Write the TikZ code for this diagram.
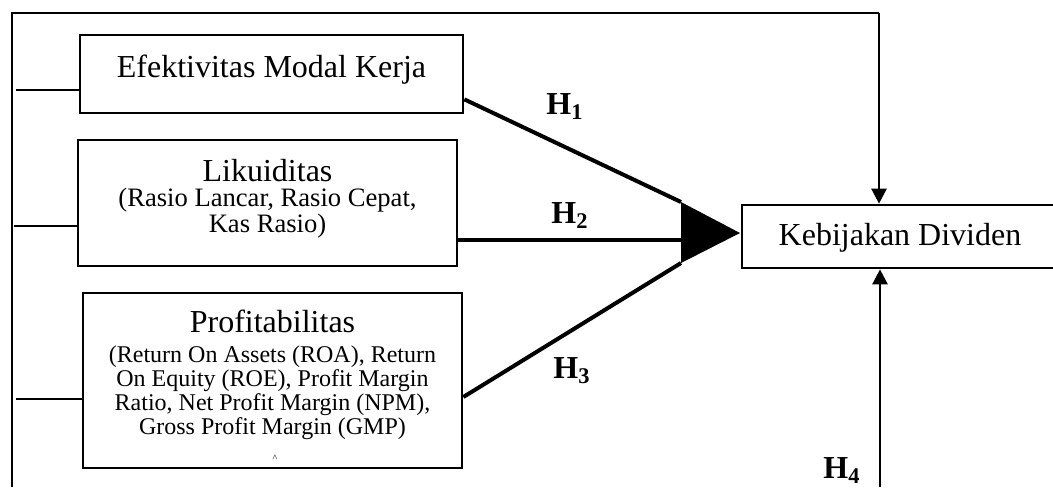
\documentclass[tikz,border=0pt]{standalone}
\usepackage{fontspec}
\setmainfont{Liberation Serif}
\usetikzlibrary{arrows.meta}
\begin{document}
\begin{tikzpicture}[x=0.5pt,y=-0.5pt,
  box/.style={draw,line width=1.35pt,inner sep=0pt},
  frame/.style={line width=0.65pt},
  hline/.style={line width=2pt},
  varrow/.style={line width=1.3pt,-{Triangle[length=7.5pt,width=7.5pt]}},
  big/.style={font=\fontsize{16}{18}\selectfont,anchor=base,inner sep=0pt},
  mid/.style={font=\fontsize{13.3}{14}\selectfont,anchor=base,inner sep=0pt},
  sml/.style={font=\fontsize{12}{13}\selectfont,anchor=base,inner sep=0pt},
  hlab/.style={font=\fontsize{16}{18}\selectfont\bfseries,anchor=base west,inner sep=0pt}]
\useasboundingbox (0,0) rectangle (1053,487);
\clip (0,0) rectangle (1053,487);

% boxes
\node[box,minimum width=191.5pt,minimum height=39pt] (b1) at (271.5,74) {};
\node[big] (t1) at (271.5,77) {Efektivitas Modal Kerja};

\node[box,minimum width=189.5pt,minimum height=63pt] (b2) at (267.5,203) {};
\node[big] (t2a) at (267.5,181) {Likuiditas};
\node[mid] (t2b) at (267.5,206) {(Rasio Lancar, Rasio Cepat,};
\node[mid] (t2c) at (267.5,232) {Kas Rasio)};

\node[box,minimum width=189.5pt,minimum height=87.5pt] (b3) at (272.5,380.5) {};
\node[big] (t3a) at (272.5,332) {Profitabilitas};
\node[sml] (t3b) at (272.5,362) {(Return On Assets (ROA), Return};
\node[sml] (t3c) at (272.5,386) {On Equity (ROE), Profit Margin};
\node[sml] (t3d) at (272.5,410) {Ratio, Net Profit Margin (NPM),};
\node[sml] (t3e) at (272.5,434) {Gross Profit Margin (GMP)};
\node[font=\fontsize{5}{5}\selectfont,inner sep=0pt] (t3f) at (275,458) {\^{}};

\node[box,minimum width=159pt,minimum height=31.5pt] (K) at (901,236.5) {};
\node[big] (tK) at (900,245) {Kebijakan Dividen};

% outer frame and ticks
\coordinate (fb) at (12,487);
\coordinate (ft) at (12,13);
\coordinate (fr) at (879,13);
\draw[frame] (fb) -- (ft) -- (fr);
\draw[varrow] (fr) -- (fr |- K.north);

\coordinate (k1) at (16,90);
\coordinate (k2) at (14,226);
\coordinate (k3) at (16,399);
\draw[frame] (k1) -- (k1 -| b1.west);
\draw[frame] (k2) -- (k2 -| b2.west);
\draw[frame] (k3) -- (k3 -| b3.west);

\coordinate (ub) at (880,487);
\draw[varrow] (ub) -- (ub |- K.south);

% hypothesis lines
\coordinate (tipT) at (681,202);
\coordinate (tipB) at (681,263);
\coordinate (tip) at (740,233);
\coordinate (base2) at (681,240);
\draw[hline] ([yshift=7.5pt]b1.south east) -- (tipT);
\draw[hline] ([yshift=-18.5pt]b2.east) -- (base2);
\draw[hline] ([yshift=-8.25pt]b3.east) -- (tipB);
\fill (tipT) -- (tip) -- (tipB) -- cycle;

% labels
\node[hlab] (h1) at (546,114) {H\textsubscript{1}};
\node[hlab] (h2) at (551,223) {H\textsubscript{2}};
\node[hlab] (h3) at (553,378) {H\textsubscript{3}};
\node[hlab] (h4) at (823,478) {H\textsubscript{4}};
\end{tikzpicture}
\end{document}
